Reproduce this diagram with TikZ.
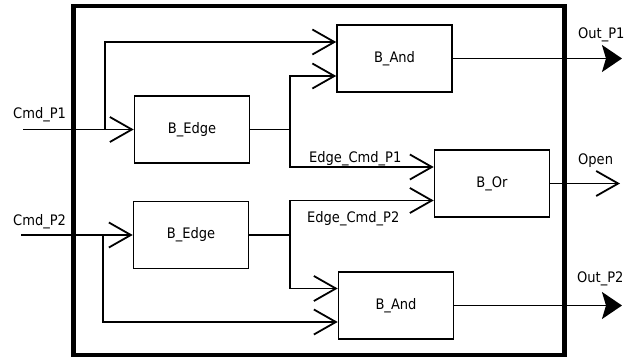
\documentclass[tikz,border=0pt]{standalone}
\usepackage{fontspec}
\setmainfont{DejaVu Sans Condensed}
\usetikzlibrary{arrows.meta}
\begin{document}
\begin{tikzpicture}[x=1pt,y=-1pt,
  txt/.style={font=\fontsize{14.5}{17}\selectfont},
  blk/.style={txt, draw, line width=1.6pt, minimum width=115pt, minimum height=67pt, inner sep=0pt},
  lbl/.style={txt, inner sep=0pt, anchor=base west},
  wire/.style={line width=1.8pt},
  vin/.style={wire, -{Straight Barb[length=22pt,width=25pt,line width=1.8pt]}},
  fout/.style={wire, -{Stealth[length=20pt,width=27pt,inset=4pt]}}]
\useasboundingbox (0,0) rectangle (625,358);
\node[draw, line width=4.5pt, minimum width=491pt, minimum height=349pt, inner sep=0pt] (frame) at (319,180.5) {};

\node[blk] (and1) at (394.5,58.5) {B\_And};
\node[blk] (edge1) at (192,129.5) {B\_Edge};
\node[blk] (or) at (492,183.5) {B\_Or};
\node[blk] (edge2) at (191,235) {B\_Edge};
\node[blk] (and2) at (396,305.5) {B\_And};

\coordinate (in1) at (23,129.5);
\coordinate (br1) at (105,129.5);
\coordinate (j1) at (290,129.5);
\coordinate (in2) at (21,235);
\coordinate (br2) at (103,235);
\coordinate (j2) at (290,235);
\coordinate (o1) at (622,58.5);
\coordinate (o2) at (620,183.5);
\coordinate (o3) at (622,305.5);

\draw[vin] (in1) -- (edge1.west);
\draw[vin] (br1) |- ([yshift=16.5pt]and1.west);
\draw[wire] (edge1.east) -- (j1);
\draw[vin] (j1) |- ([yshift=-17.5pt]and1.west);
\draw[vin] (j1) |- ([yshift=16.5pt]or.west);

\draw[vin] (in2) -- (edge2.west);
\draw[vin] (br2) |- ([yshift=-16.5pt]and2.west);
\draw[wire] (edge2.east) -- (j2);
\draw[vin] (j2) |- ([yshift=-17pt]or.west);
\draw[vin] (j2) |- ([yshift=17pt]and2.west);

\draw[fout] (and1.east) -- (o1);
\draw[vin] (or.east) -- (o2);
\draw[fout] (and2.east) -- (o3);

\node[lbl] (lc1) at (13,119) {Cmd\_P1};
\node[lbl] (lc2) at (13,226) {Cmd\_P2};
\node[lbl] (lo1) at (578,39) {Out\_P1};
\node[lbl] (lop) at (578,165) {Open};
\node[lbl] (lo2) at (577,283) {Out\_P2};
\node[lbl] (le1) at (309,163) {Edge\_Cmd\_P1};
\node[lbl] (le2) at (307,223) {Edge\_Cmd\_P2};
\end{tikzpicture}
\end{document}
